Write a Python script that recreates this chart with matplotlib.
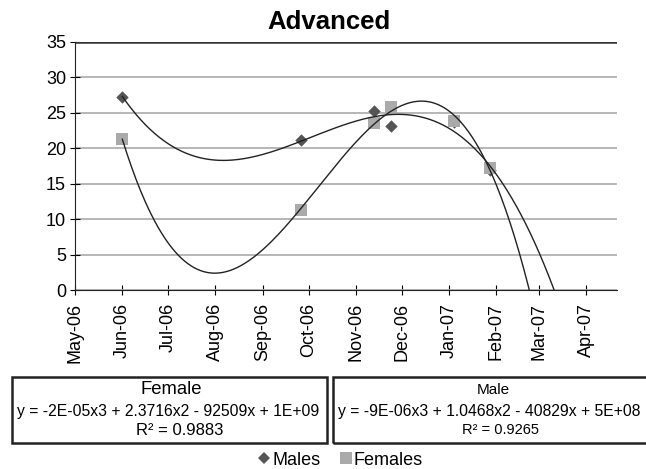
import numpy as np
import pandas as pd
import matplotlib
matplotlib.use("Agg")
import matplotlib.pyplot as plt
import matplotlib.dates as mdates
from matplotlib.lines import Line2D
from matplotlib.patches import Rectangle

plt.rcParams["font.family"] = ["Liberation Sans", "DejaVu Sans"]

# data (two male points sit under the female squares)
male_dates = ["2006-06-01", "2006-09-26", "2006-11-13", "2006-11-24", "2007-01-04", "2007-01-28"]
male_vals = [27.3, 21.2, 25.2, 23.1, 23.7, 16.9]
female_dates = ["2006-06-01", "2006-09-26", "2006-11-13", "2006-11-24", "2007-01-04", "2007-01-28"]
female_vals = [21.3, 11.3, 23.5, 25.8, 23.9, 17.2]

month_ticks = pd.date_range("2006-05-01", "2007-04-01", freq="MS")

female_eq = "y = -2E-05x3 + 2.3716x2 - 92509x + 1E+09"
male_eq = "y = -9E-06x3 + 1.0468x2 - 40829x + 5E+08"
female_r2 = "0.9883"
male_r2 = "0.9265"

md = pd.to_datetime(male_dates)
fd = pd.to_datetime(female_dates)
t0 = pd.Timestamp("2006-05-01")


def trend(dates, vals, end="2007-04-20"):
    # cubic polynomial trendline, like Excel's
    x = (dates - t0).days.values.astype(float)
    coef = np.polyfit(x, vals, 3)
    xs_dates = pd.date_range(dates.min(), end, freq="D")
    xs = (xs_dates - t0).days.values.astype(float)
    return xs_dates, np.polyval(coef, xs)


fig = plt.figure(figsize=(6.46, 4.69), dpi=100)
ax = fig.add_axes([75 / 646, 1 - 290 / 469, (617 - 75) / 646, (290 - 42) / 469])

mx, my = trend(md, male_vals)
fx, fy = trend(fd, female_vals)
ax.plot(mx, my, color="#222222", lw=1.0, zorder=3)
ax.plot(fx, fy, color="#222222", lw=1.0, zorder=3)

ax.scatter(md, male_vals, marker="D", s=40, color="#555555", lw=0, zorder=2)
ax.scatter(fd, female_vals, marker="s", s=80, color="#aaaaaa", lw=0, zorder=2.5)

ax.set_ylim(0, 35)
ax.set_yticks(range(0, 36, 5))
ax.set_xlim(t0, pd.Timestamp("2007-04-21"))
ax.set_xticks(month_ticks)
ax.xaxis.set_major_formatter(mdates.DateFormatter("%b-%y"))
ax.tick_params(axis="x", labelrotation=90, direction="inout", length=7, labelsize=13, pad=6)
ax.tick_params(axis="y", direction="inout", length=7, labelsize=13, pad=3)
ax.grid(axis="y", color="#aaaaaa", lw=1.2)
ax.set_axisbelow(True)
for s in ["top", "right"]:
    ax.spines[s].set_visible(False)
ax.spines["left"].set_color("#222222")
ax.spines["bottom"].set_color("#222222")
ax.axhline(35, color="#333333", lw=1.8, zorder=1)

fig.text(329 / 646, 1 - 22 / 469, "Advanced", ha="center", va="center",
         fontsize=18.5, fontweight="bold")

# equation boxes
for x0, x1 in [(12, 327), (333, 660)]:
    fig.patches.append(Rectangle((x0 / 646, 1 - 443 / 469), (x1 - x0) / 646, 66 / 469,
                                 transform=fig.transFigure, fill=False,
                                 edgecolor="#222222", lw=1.8))

fig.text(171 / 646, 1 - 390 / 469, "Female", ha="center", va="center", fontsize=13.3)
fig.text(168 / 646, 1 - 411 / 469, female_eq, ha="center", va="center", fontsize=11.3)
fig.text(180 / 646, 1 - 430 / 469, "R² = " + female_r2, ha="center", va="center", fontsize=12)
fig.text(493 / 646, 1 - 390 / 469, "Male", ha="center", va="center", fontsize=11)
fig.text(489 / 646, 1 - 411 / 469, male_eq, ha="center", va="center", fontsize=11.3)
fig.text(500 / 646, 1 - 430 / 469, "R² = " + male_r2, ha="center", va="center", fontsize=10.5)

handles = [Line2D([], [], marker="D", ls="", color="#555555", markeredgewidth=0, markersize=6),
           Line2D([], [], marker="s", ls="", color="#aaaaaa", markeredgewidth=0, markersize=8)]
fig.legend(handles, ["Males", "Females"], loc="center", bbox_to_anchor=(340 / 646, 1 - 460 / 469),
           ncol=2, frameon=False, fontsize=13, handletextpad=0.05, columnspacing=1.0,
           handlelength=0.8, borderpad=0)

fig.savefig("out.png", dpi=100)
